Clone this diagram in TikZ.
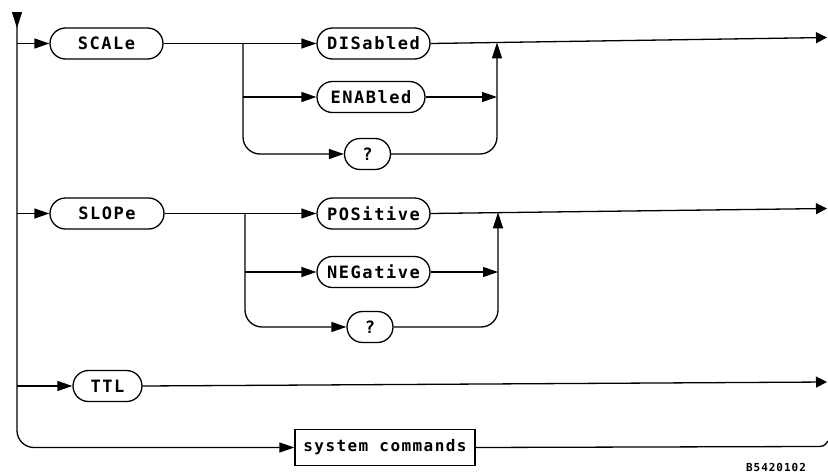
\documentclass[tikz,border=0pt]{standalone}
\usepackage{fontspec}
\newfontfamily\hp{DejaVu Sans Mono}[LetterSpace=9]
\usetikzlibrary{arrows.meta}
\begin{document}
\begin{tikzpicture}[x=1pt,y=-1pt,
  line/.style={line width=1.3pt, line join=round},
  arr/.style={line, -{Triangle[length=15pt,width=10pt]}},
  arrend/.style={line, -{Triangle[length=11pt,width=11pt]}},
  arrup/.style={line, -{Triangle[length=16pt,width=10pt]}},
  term/.style={draw, line width=1.3pt, rounded corners=15.5pt, minimum height=31pt,
    inner sep=0pt, font=\hp\bfseries\fontsize{17}{19}\selectfont},
  cmdbox/.style={draw, line width=1.3pt, minimum height=36pt, minimum width=180pt,
    inner sep=0pt, font=\hp\bfseries\fontsize{16}{18}\selectfont},
  tag/.style={inner sep=0pt, font=\hp\bfseries\fontsize{11}{12}\selectfont}]
\useasboundingbox (0,0) rectangle (828,474);

% nodes
\node[term, minimum width=113pt] (SCA) at (106.5,43.5) {SCALe};
\node[term, minimum width=113pt] (DIS) at (373.5,43.5) {DISabled};
\node[term, minimum width=108pt] (ENA) at (371,97) {ENABled};
\node[term, minimum width=46pt] (Q1) at (367.5,154) {?};

\node[term, minimum width=114pt] (SLO) at (107,213.5) {SLOPe};
\node[term, minimum width=113pt] (POS) at (373.5,213.5) {POSitive};
\node[term, minimum width=113pt] (NEG) at (373.5,272) {NEGative};
\node[term, minimum width=46pt] (Q2) at (370,327) {?};

\node[term, minimum width=69pt] (TTL) at (107.5,386) {TTL};
\node[cmdbox] (SYS) at (385,447.5) {system commands};
\node[tag] (id) at (776,467) {B5420102};

% coordinates
\coordinate (top) at (17,12);
\coordinate (toparr) at (17,28);
\coordinate (j1) at (17,43.5);
\coordinate (j2) at (17,213.5);
\coordinate (j3) at (17,386);
\coordinate (b1) at (243,43.5);
\coordinate (b1m) at (243,97);
\coordinate (m1) at (497,42.4);
\coordinate (m1m) at (497,97);
\coordinate (e1) at (827,37.5);
\coordinate (b2) at (245,213.5);
\coordinate (b2m) at (245,272);
\coordinate (m2) at (498,212.3);
\coordinate (m2m) at (498,272);
\coordinate (e2) at (827,208.5);
\coordinate (e3) at (827,382);
\coordinate (e4a) at (814,446.5);
\coordinate (e4c) at (824,446.5);
\coordinate (e4) at (828,441);

% main line
\draw[arrup] (top) -- (toparr);
\draw[arr, rounded corners=17pt] (top) |- (SYS.west);
\draw[line] (SYS.east) -- (e4a) .. controls (e4c) .. (e4);

% row 1
\draw[arr] (j1) -- (SCA.west);
\draw[arr] (SCA.east) -- (DIS.west);
\draw[arr] (b1m) -- (ENA.west);
\draw[arr, rounded corners=17pt] (b1) |- (Q1.west);
\draw[arrup, rounded corners=17pt] (Q1.east) -| (m1);
\draw[arr] (ENA.east) -- (m1m);
\draw[arrend] (DIS.east) -- (e1);

% row 2
\draw[arr] (j2) -- (SLO.west);
\draw[arr] (SLO.east) -- (POS.west);
\draw[arr] (b2m) -- (NEG.west);
\draw[arr, rounded corners=17pt] (b2) |- (Q2.west);
\draw[arrup, rounded corners=17pt] (Q2.east) -| (m2);
\draw[arr] (NEG.east) -- (m2m);
\draw[arrend] (POS.east) -- (e2);

% row 3
\draw[arr] (j3) -- (TTL.west);
\draw[arrend] (TTL.east) -- (e3);
\end{tikzpicture}
\end{document}
